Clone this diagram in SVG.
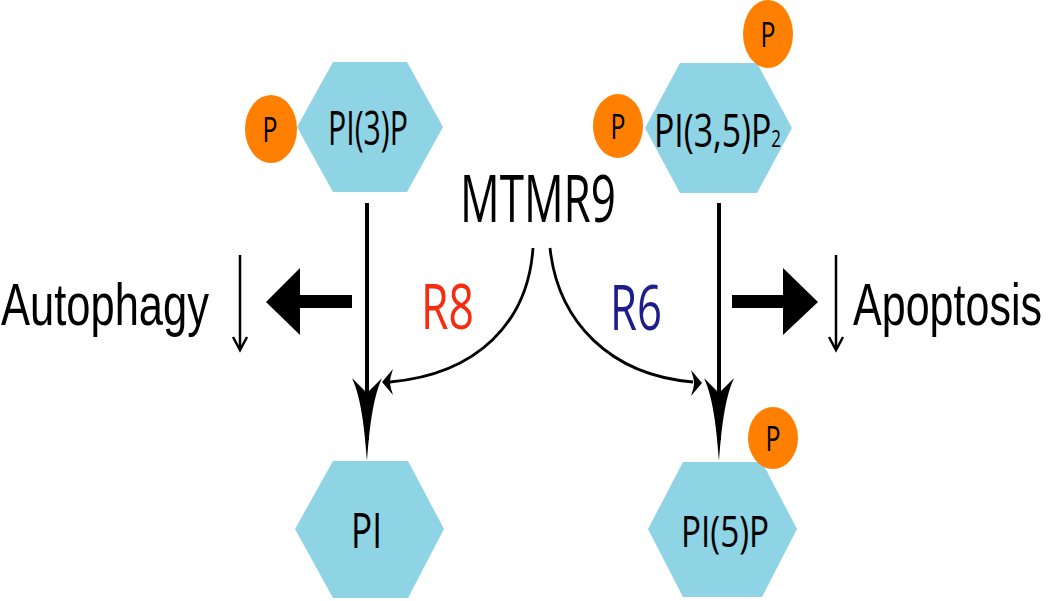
<svg xmlns="http://www.w3.org/2000/svg" width="1050" height="601" viewBox="0 0 1050 601">
<style>
.hex{fill:#8ED4E5;}
.pc{fill:#FF8000;}
.ht{font-family:"Open Sans","Noto Sans",sans-serif;fill:#000;}
.pt{font-family:"Open Sans","Noto Sans",sans-serif;fill:#000;font-size:34px;text-anchor:middle;}
.lbl{font-family:"Liberation Sans",Arial,sans-serif;fill:#000;font-size:60px;}
.ln{stroke:#000;fill:none;}
.hd{fill:#000;}
</style>
<rect width="1050" height="601" fill="#fff"/>
<g id="connectors">
  <line class="ln" x1="367" y1="203" x2="367" y2="440" stroke-width="4"/>
  <path class="hd" d="M367,393 L352,378 C360,396 364,420 367,461 C370,420 374,396 382,378 Z"/>
  <line class="ln" x1="719" y1="203" x2="719" y2="440" stroke-width="4"/>
  <path class="hd" d="M719,393 L704,378 C712,396 716,420 719,461 C722,420 726,396 734,378 Z"/>
  <path class="ln" stroke-width="2.8" d="M533,248 C528,322 478,374 390,382"/>
  <path class="hd" d="M382,382 L393,369 C391,375 390,379 390,382 C390,385 391,389 393,395 Z"/>
  <path class="ln" stroke-width="2.8" d="M550,248 C558,322 610,375 693,382"/>
  <path class="hd" d="M702,383 L691,370 C693,376 694,380 694,383 C694,386 693,390 691,396 Z"/>
  <polygon class="hd" points="352,295 300,295 300,268 266,302 300,335 300,308 352,308"/>
  <polygon class="hd" points="732,295 783,295 783,268 818,302 783,335 783,308 732,308"/>
  <line class="ln" x1="240" y1="255" x2="240" y2="349" stroke-width="2.5"/>
  <polyline class="ln" points="233,337 240,350 247,337" stroke-width="2.5"/>
  <line class="ln" x1="836" y1="255" x2="836" y2="349" stroke-width="2.5"/>
  <polyline class="ln" points="829,337 836,350 843,337" stroke-width="2.5"/>
</g>
<g id="node-pi3p">
  <polygon class="hex" points="297,127 333,62 407,62 443,127 407,192 333,192"/>
  <text class="ht" x="328" y="145" font-size="47" textLength="80" lengthAdjust="spacingAndGlyphs">PI(3)P</text>
  <ellipse class="pc" cx="271" cy="129" rx="26" ry="34"/>
  <text class="pt" x="270" y="142" textLength="15" lengthAdjust="spacingAndGlyphs">P</text>
</g>
<g id="node-pi35p2">
  <polygon class="hex" points="645,128 680,63 757,63 792,128 757,193 680,193"/>
  <text class="ht" x="654" y="147" font-size="46" textLength="127" lengthAdjust="spacingAndGlyphs">PI(3,5)P<tspan font-size="23">2</tspan></text>
  <ellipse class="pc" cx="618" cy="126" rx="25" ry="32"/>
  <text class="pt" x="618" y="139" textLength="15" lengthAdjust="spacingAndGlyphs">P</text>
  <ellipse class="pc" cx="768" cy="34" rx="25" ry="34"/>
  <text class="pt" x="768" y="47" textLength="15" lengthAdjust="spacingAndGlyphs">P</text>
</g>
<g id="node-pi">
  <polygon class="hex" points="295,529 333,461 408,461 444,529 408,598 333,598"/>
  <text class="ht" x="351" y="548" font-size="49" textLength="31" lengthAdjust="spacingAndGlyphs">PI</text>
</g>
<g id="node-pi5p">
  <polygon class="hex" points="648,529 683,462 762,462 797,529 762,597 683,597"/>
  <text class="ht" x="681" y="547" font-size="44" textLength="88" lengthAdjust="spacingAndGlyphs">PI(5)P</text>
  <ellipse class="pc" cx="773" cy="438" rx="25" ry="31"/>
  <text class="pt" x="773" y="451" textLength="15" lengthAdjust="spacingAndGlyphs">P</text>
</g>
<g id="node-mtmr9">
  <text class="ht" x="460" y="222" font-size="66" textLength="156" lengthAdjust="spacingAndGlyphs">MTMR9</text>
</g>
<g id="label-r8">
  <text class="ht" x="421" y="329" font-size="62" style="fill:#F52C10" textLength="53" lengthAdjust="spacingAndGlyphs">R8</text>
</g>
<g id="label-r6">
  <text class="ht" x="610" y="330" font-size="62" style="fill:#1F1C8C" textLength="52" lengthAdjust="spacingAndGlyphs">R6</text>
</g>
<g id="node-autophagy">
  <text class="lbl" x="1" y="325" textLength="208" lengthAdjust="spacingAndGlyphs">Autophagy</text>
</g>
<g id="node-apoptosis">
  <text class="lbl" x="853" y="325" textLength="189" lengthAdjust="spacingAndGlyphs">Apoptosis</text>
</g>
</svg>
